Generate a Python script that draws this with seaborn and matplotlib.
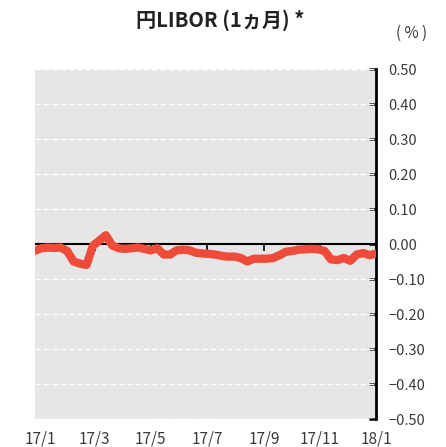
import pandas as pd
import numpy as np
import matplotlib
matplotlib.use('Agg')
import matplotlib.pyplot as plt
import matplotlib.dates as mdates
import seaborn as sns

# weekly readings of 1-month yen LIBOR (%), from late Dec 2016 to Jan 2018
start_date = '2016-12-26'
libor = [-0.019, -0.012, -0.010, -0.011, -0.010, -0.020, -0.050, -0.056, -0.060, -0.005,
         0.010, 0.025, -0.004, -0.012, -0.014, -0.012, -0.010, -0.014, -0.018, -0.012,
         -0.030, -0.030, -0.018, -0.016, -0.018, -0.025, -0.027, -0.028, -0.030, -0.034,
         -0.036, -0.036, -0.040, -0.050, -0.042, -0.042, -0.042, -0.040, -0.032, -0.022,
         -0.020, -0.016, -0.015, -0.014, -0.015, -0.020, -0.044, -0.046, -0.040, -0.048,
         -0.030, -0.026, -0.032, -0.027]

tick_dates = ['2017-01-01', '2017-03-01', '2017-05-01', '2017-07-01',
              '2017-09-01', '2017-11-01', '2018-01-01']
tick_labels = ['17/1', '17/3', '17/5', '17/7', '17/9', '17/11', '18/1']
y_ticks = [0.5, 0.4, 0.3, 0.2, 0.1, 0.0, -0.1, -0.2, -0.3, -0.4, -0.5]
y_labels = ['0.50', '0.40', '0.30', '0.20', '0.10', '0.00',
            '−0.10', '−0.20', '−0.30', '−0.40', '−0.50']

df = pd.DataFrame({'date': pd.date_range(start_date, periods=len(libor), freq='7D'),
                   'rate': libor})

sns.set_theme(style='white')
plt.rcParams['font.family'] = ['Noto Sans CJK JP', 'DejaVu Sans']

fig = plt.figure(figsize=(4.46, 4.47), dpi=100)
ax = fig.add_axes([0.0785, 0.0626, 0.7646, 0.783])
ax.set_facecolor('#e6e6e6')

sns.lineplot(data=df, x='date', y='rate', ax=ax, color='#ef4b3a', linewidth=6,
             solid_capstyle='round', solid_joinstyle='round', zorder=5)

ax.set_xlim(pd.Timestamp('2016-12-26'), pd.Timestamp('2018-01-01'))
ax.set_ylim(-0.5, 0.5)

# dashed white grid
for v in y_ticks:
    if v != 0:
        ax.axhline(v, color='white', linestyle=(0, (4, 2)), linewidth=1, zorder=1)
ax.axhline(0, color='black', linewidth=1.5, zorder=3)

# y axis on the right
ax.yaxis.tick_right()
ax.set_yticks(y_ticks)
ax.set_yticklabels(y_labels, fontsize=10.5, color='#3a3a3a')
ax.tick_params(axis='y', direction='in', length=5, width=1.8, color='black', pad=9)
ax.set_ylabel('')

# x labels at bottom, ticks on the zero line
td = pd.to_datetime(tick_dates)
ax.set_xticks(td)
ax.set_xticklabels(tick_labels, fontsize=11, color='#3a3a3a')
ax.tick_params(axis='x', length=0, pad=8)
ax.set_xlabel('')

sec = ax.secondary_xaxis(0.5)
sec.set_xticks(td)
sec.set_xticklabels([])
sec.tick_params(axis='x', direction='in', length=5, width=1.2, color='black')
sec.spines['bottom'].set_visible(False)
sec.spines['top'].set_visible(False)

for s in ['top', 'left', 'bottom']:
    ax.spines[s].set_visible(False)
ax.spines['right'].set_color('black')
ax.spines['right'].set_linewidth(2)

fig.text(0.493, 0.955, '円LIBOR (1ヵ月) *', ha='center', va='center',
         fontsize=14.5, fontweight='bold', color='#222222')
fig.text(0.922, 0.925, '( % )', ha='center', va='center', fontsize=11, color='#3a3a3a')

fig.savefig('out.png', dpi=100)
